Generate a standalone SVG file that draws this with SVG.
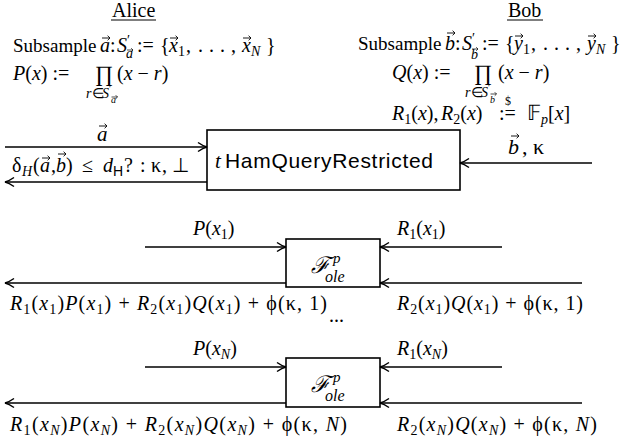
<svg xmlns="http://www.w3.org/2000/svg" width="635" height="444" viewBox="0 0 635 444">
<defs>
<style>
text{font-family:"Liberation Serif","Times New Roman",serif;font-size:20px;fill:#000}
.i{font-style:italic}
.s{font-size:14px}
.ss{font-size:10px}
.w{font-size:19px}
.sans{font-family:"Liberation Sans",Arial,sans-serif;font-size:21px}
.box{fill:#fff;stroke:#000;stroke-width:1.6}
.c line{stroke:#000;stroke-width:1.6;marker-end:url(#ah)}
.u{stroke:#000;stroke-width:1}
.vec{fill:none;stroke:#000;stroke-width:0.9}
</style>
<marker id="ah" markerUnits="userSpaceOnUse" markerWidth="14" markerHeight="14" refX="11" refY="7" orient="auto">
<path d="M2 2.5 Q7 6 11 7 Q7 8 2 11.5" fill="none" stroke="#000" stroke-width="1.5"/>
</marker>
<symbol id="v" overflow="visible"><path class="vec" d="M0 0H8M5.6-2.3L8 0 5.6 2.3"/></symbol>
<symbol id="vs" overflow="visible"><path class="vec" d="M0 0H6M4.2-1.8L6 0 4.2 1.8" style="stroke-width:0.7"/></symbol>
</defs>
<rect width="635" height="444" fill="#fff"/>

<g id="alice">
<text x="112" y="17">Alice</text>
<line class="u" x1="111" y1="20" x2="156" y2="20"/>
<text y="52"><tspan x="13" class="w">Subsample</tspan><tspan x="100" class="i">a</tspan><tspan>:</tspan><tspan x="117" class="i">S</tspan><tspan class="s" dy="-7">′</tspan><tspan class="s i" x="126" dy="13">a</tspan><tspan x="137" dy="-6">:=</tspan><tspan x="160">{</tspan><tspan x="169" class="i">x</tspan><tspan class="s" dy="4">1</tspan><tspan dy="-4" x="186 198 209 220 231">,...,</tspan><tspan x="242" class="i">x</tspan><tspan class="s i" dy="4">N</tspan><tspan x="266" dy="-4">}</tspan></text>
<use href="#v" x="102" y="38"/>
<use href="#vs" x="127" y="50"/>
<use href="#v" x="170" y="38"/>
<use href="#v" x="243" y="38"/>
<text x="13" y="80"><tspan class="i">P</tspan>(<tspan class="i">x</tspan>) :=</text>
<text x="95" y="81" style="font-size:22px">∏</text>
<text x="117" y="80">(<tspan class="i">x</tspan> − <tspan class="i">r</tspan>)</text>
<text y="98" class="s"><tspan x="86" class="i">r</tspan><tspan x="92">∈</tspan><tspan x="102" class="i">S</tspan><tspan class="ss" dy="-6">′</tspan><tspan class="ss i" x="111" dy="11">a</tspan></text>
<use href="#vs" x="111.5" y="97"/>
</g>

<g id="bob">
<text x="508" y="17">Bob</text>
<line class="u" x1="507" y1="20" x2="543" y2="20"/>
<text y="50"><tspan x="358" class="w">Subsample</tspan><tspan x="445" class="i">b</tspan><tspan>:</tspan><tspan x="462" class="i">S</tspan><tspan class="s" dy="-7">′</tspan><tspan class="s i" x="471" dy="16">b</tspan><tspan x="482" dy="-9">:=</tspan><tspan x="505">{</tspan><tspan x="514" class="i">y</tspan><tspan class="s" dy="4">1</tspan><tspan dy="-4" x="531 543 554 565 576">,...,</tspan><tspan x="587" class="i">y</tspan><tspan class="s i" dy="4">N</tspan><tspan x="611" dy="-4">}</tspan></text>
<use href="#v" x="447" y="33"/>
<use href="#vs" x="472" y="49"/>
<use href="#v" x="515" y="36"/>
<use href="#v" x="588" y="36"/>
<text x="392" y="79"><tspan class="i">Q</tspan>(<tspan class="i">x</tspan>) :=</text>
<text x="474" y="80" style="font-size:22px">∏</text>
<text x="498" y="79">(<tspan class="i">x</tspan> − <tspan class="i">r</tspan>)</text>
<text y="97" class="s"><tspan x="465" class="i">r</tspan><tspan x="471">∈</tspan><tspan x="481" class="i">S</tspan><tspan class="ss" dy="-6">′</tspan><tspan class="ss i" x="490" dy="12">b</tspan></text>
<use href="#vs" x="490.5" y="94"/>
<text y="120"><tspan x="392" class="i">R</tspan><tspan class="s" dy="4">1</tspan><tspan dy="-4">(</tspan><tspan class="i">x</tspan><tspan>),</tspan><tspan x="441" class="i">R</tspan><tspan class="s" dy="4">2</tspan><tspan dy="-4">(</tspan><tspan class="i">x</tspan><tspan>)</tspan><tspan x="499">:=</tspan><tspan x="527" style="font-size:21px">𝔽</tspan><tspan class="s i" dy="4">p</tspan><tspan dy="-4">[</tspan><tspan class="i">x</tspan><tspan>]</tspan></text>
<text x="505" y="105" style="font-size:12px">$</text>
</g>

<g id="thamquery">
<rect class="box" x="207" y="130" width="253" height="60"/>
<text x="215" y="168"><tspan class="i" style="font-size:21px">t</tspan><tspan class="sans" x="225" textLength="208">HamQueryRestricted</tspan></text>
</g>

<g id="ole1">
<rect class="box" x="286" y="239" width="94" height="48"/>
<text x="311" y="273" style="font-size:23px" class="i">ℱ</text>
<text x="333" y="263" class="i" style="font-size:15px">p</text>
<text x="325" y="282" class="i" style="font-size:16px">ole</text>
</g>

<g id="ole2">
<rect class="box" x="286" y="358" width="94" height="49"/>
<text x="311" y="392" style="font-size:23px" class="i">ℱ</text>
<text x="333" y="382" class="i" style="font-size:15px">p</text>
<text x="325" y="401" class="i" style="font-size:16px">ole</text>
</g>

<g class="c" id="connectors">
<line x1="5" y1="147" x2="207" y2="147"/>
<line x1="207" y1="182" x2="5" y2="182"/>
<line x1="592" y1="163" x2="460" y2="163"/>
<line x1="145" y1="247" x2="286" y2="247"/>
<line x1="502" y1="247" x2="380" y2="247"/>
<line x1="286" y1="283" x2="5" y2="283"/>
<line x1="582" y1="283" x2="380" y2="283"/>
<line x1="145" y1="367" x2="286" y2="367"/>
<line x1="502" y1="367" x2="380" y2="367"/>
<line x1="286" y1="403" x2="5" y2="403"/>
<line x1="582" y1="403" x2="380" y2="403"/>
</g>

<g id="labels">
<text x="97" y="141" class="i" style="font-size:21px">a</text>
<use href="#v" x="99" y="126"/>
<text y="172"><tspan x="12">δ</tspan><tspan class="s i" x="22" dy="4">H</tspan><tspan x="33" dy="-4">(</tspan><tspan x="40" class="i">a</tspan><tspan x="51">,</tspan><tspan x="56" class="i">b</tspan><tspan x="66">)</tspan><tspan x="82">≤</tspan><tspan x="103" class="i">d</tspan><tspan class="s" x="113" dy="4" style="font-family:'Liberation Sans',Arial,sans-serif">H</tspan><tspan x="124" dy="-4">?</tspan><tspan x="140">:</tspan><tspan x="151">κ</tspan><tspan x="162">,</tspan><tspan x="172">⊥</tspan></text>
<use href="#v" x="42" y="158"/>
<use href="#v" x="58" y="154"/>
<text y="154" style="font-size:22px"><tspan x="508" class="i">b</tspan><tspan x="522">,</tspan><tspan x="533">κ</tspan></text>
<use href="#v" x="511" y="136"/>

<text x="193" y="235"><tspan class="i">P</tspan>(<tspan class="i">x</tspan><tspan class="s" dy="4">1</tspan><tspan dy="-4">)</tspan></text>
<text x="397" y="235"><tspan class="i">R</tspan><tspan class="s" dy="4">1</tspan><tspan dy="-4">(</tspan><tspan class="i">x</tspan><tspan class="s" dy="4">1</tspan><tspan dy="-4">)</tspan></text>
<text x="10" y="310" textLength="317"><tspan class="i">R</tspan><tspan class="s" dy="4">1</tspan><tspan dy="-4">(</tspan><tspan class="i">x</tspan><tspan class="s" dy="4">1</tspan><tspan dy="-4">)</tspan><tspan class="i">P</tspan>(<tspan class="i">x</tspan><tspan class="s" dy="4">1</tspan><tspan dy="-4">) + </tspan><tspan class="i">R</tspan><tspan class="s" dy="4">2</tspan><tspan dy="-4">(</tspan><tspan class="i">x</tspan><tspan class="s" dy="4">1</tspan><tspan dy="-4">)</tspan><tspan class="i">Q</tspan>(<tspan class="i">x</tspan><tspan class="s" dy="4">1</tspan><tspan dy="-4">) + ϕ(κ, 1)</tspan></text>
<text x="329" y="322">...</text>
<text x="397" y="310" textLength="186"><tspan class="i">R</tspan><tspan class="s" dy="4">2</tspan><tspan dy="-4">(</tspan><tspan class="i">x</tspan><tspan class="s" dy="4">1</tspan><tspan dy="-4">)</tspan><tspan class="i">Q</tspan>(<tspan class="i">x</tspan><tspan class="s" dy="4">1</tspan><tspan dy="-4">) + ϕ(κ, 1)</tspan></text>

<text x="193" y="355"><tspan class="i">P</tspan>(<tspan class="i">x</tspan><tspan class="s i" dy="4">N</tspan><tspan dy="-4">)</tspan></text>
<text x="397" y="355"><tspan class="i">R</tspan><tspan class="s" dy="4">1</tspan><tspan dy="-4">(</tspan><tspan class="i">x</tspan><tspan class="s i" dy="4">N</tspan><tspan dy="-4">)</tspan></text>
<text x="10" y="431" textLength="337"><tspan class="i">R</tspan><tspan class="s" dy="4">1</tspan><tspan dy="-4">(</tspan><tspan class="i">x</tspan><tspan class="s i" dy="4">N</tspan><tspan dy="-4">)</tspan><tspan class="i">P</tspan>(<tspan class="i">x</tspan><tspan class="s i" dy="4">N</tspan><tspan dy="-4">) + </tspan><tspan class="i">R</tspan><tspan class="s" dy="4">2</tspan><tspan dy="-4">(</tspan><tspan class="i">x</tspan><tspan class="s i" dy="4">N</tspan><tspan dy="-4">)</tspan><tspan class="i">Q</tspan>(<tspan class="i">x</tspan><tspan class="s i" dy="4">N</tspan><tspan dy="-4">) + ϕ(κ, </tspan><tspan class="i">N</tspan>)</text>
<text x="397" y="431" textLength="200"><tspan class="i">R</tspan><tspan class="s" dy="4">2</tspan><tspan dy="-4">(</tspan><tspan class="i">x</tspan><tspan class="s i" dy="4">N</tspan><tspan dy="-4">)</tspan><tspan class="i">Q</tspan>(<tspan class="i">x</tspan><tspan class="s i" dy="4">N</tspan><tspan dy="-4">) + ϕ(κ, </tspan><tspan class="i">N</tspan>)</text>
</g>
</svg>
